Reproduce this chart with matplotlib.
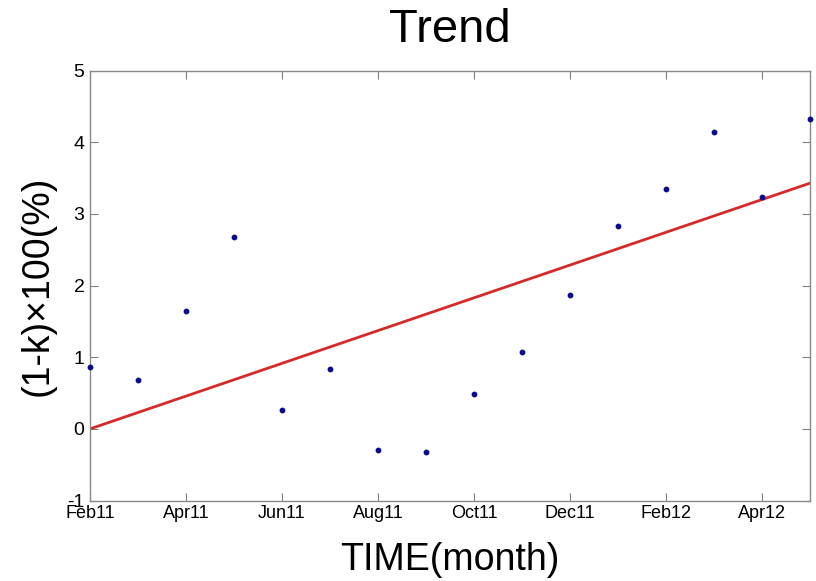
import matplotlib
matplotlib.use("Agg")
import matplotlib.pyplot as plt
import numpy as np

plt.rcParams['font.family'] = ['Liberation Sans', 'DejaVu Sans']

months = ["Feb11", "Mar11", "Apr11", "May11", "Jun11", "Jul11", "Aug11", "Sep11",
          "Oct11", "Nov11", "Dec11", "Jan12", "Feb12", "Mar12", "Apr12", "May12"]
values = [0.86, 0.68, 1.64, 2.68, 0.27, 0.83, -0.30, -0.32,
          0.48, 1.07, 1.87, 2.83, 3.35, 4.15, 3.24, 4.32]
trend_x = ["Feb11", "May12"]
trend_y = [0.0, 3.43]
tick_labels = ["Feb11", "Apr11", "Jun11", "Aug11", "Oct11", "Dec11", "Feb12", "Apr12"]

x = np.arange(len(months))
tx = [months.index(m) for m in trend_x]
ticks = [months.index(m) for m in tick_labels]

fig = plt.figure(figsize=(8.16, 5.81), dpi=100)
ax = fig.add_axes([90/816, 1-500.5/581, 720/816, (500.5-70.7)/581])

ax.plot(tx, trend_y, color='#d42a2a', lw=2.0, zorder=2)
ax.plot(x, values, linestyle='none', marker='o', markersize=3.2,
        color='#0a0a8a', zorder=3, clip_on=False)

ax.set_xlim(0, len(months) - 1)
ax.set_ylim(-1, 5)
ax.set_xticks(ticks)
ax.set_xticklabels(tick_labels, fontsize=13)
ax.set_yticks(np.arange(-1, 6, 1))
ax.set_yticklabels([str(v) for v in range(-1, 6)], fontsize=14)
ax.tick_params(direction='in', top=True, right=True, length=6, width=0.8,
               color='#808080')
ax.tick_params(axis='x', pad=3)
ax.tick_params(axis='y', pad=4)
for s in ax.spines.values():
    s.set_color('#8a8a8a')
    s.set_linewidth(1.0)

ax.set_title("Trend", fontsize=34, pad=21)
ax.set_xlabel("TIME(month)", fontsize=27, labelpad=15)
ax.set_ylabel("(1-k)\u00d7100(%)", fontsize=27, labelpad=8)

fig.savefig("out.png", dpi=100, facecolor='white')
